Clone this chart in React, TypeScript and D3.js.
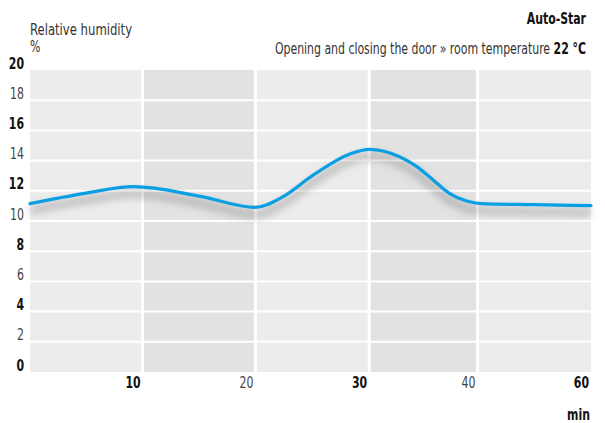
import React from 'react'
import * as d3 from 'd3'

// x axis: labelled column edges (last column covers 40-60)
const xTicks = [10, 20, 30, 40, 60]
const yTicks = [0, 2, 4, 6, 8, 10, 12, 14, 16, 18, 20]

// humidity curve
const minutes = [0, 5, 9.2, 15, 20, 22.4, 25.1, 28.3, 30, 32.8, 34.4, 35.9, 37.4, 39, 40.6, 50, 60]
const humidity = [11.15, 11.85, 12.27, 11.65, 10.9, 11.6, 13.05, 14.44, 14.75, 14.26, 13.6, 12.72, 11.83, 11.32, 11.15, 11.08, 11.02]

const W = 605
const H = 423
const FONT = "'DejaVu Sans Condensed', 'DejaVu Sans', sans-serif"
const SQUEEZE = 0.81 // narrow the fallback font towards the condensed original

// text squeezed horizontally around its anchor point
const T: React.FC<{
  x: number
  y: number
  size?: number
  bold?: boolean
  anchor?: 'start' | 'end' | 'middle'
  fill?: string
  children: React.ReactNode
}> = ({ x, y, size = 15, bold = false, anchor = 'start', fill = '#333', children }) => (
  <text
    transform={`translate(${x},${y}) scale(${SQUEEZE},1)`}
    textAnchor={anchor}
    fontSize={size}
    fontWeight={bold ? 'bold' : 'normal'}
    fill={fill}
  >
    {children}
  </text>
)

const App: React.FC = () => {
  const left = 30
  const right = 591
  const top = 70
  const bottom = 372

  const edges = [0, ...xTicks]
  const x = d3
    .scaleLinear()
    .domain(edges)
    .range([left, 142.6, 255.4, 369.2, 477.5, right])
  const y = d3.scaleLinear().domain([0, 20]).range([bottom, top])

  const pts: [number, number][] = minutes.map((m, i) => [x(m), y(humidity[i])])
  const line = d3.line().curve(d3.curveMonotoneX)
  const path = line(pts) || ''

  return (
    <svg
      width={W}
      height={H}
      style={{ position: 'absolute', left: 0, top: 0, display: 'block' }}
      fontFamily={FONT}
    >
      <defs>
        <filter id="shadow" x="-10%" y="-50%" width="120%" height="200%">
          <feGaussianBlur stdDeviation="4" />
        </filter>
      </defs>

      {/* column bands */}
      {edges.slice(0, -1).map((e, i) => (
        <rect
          key={'band' + i}
          x={x(e)}
          y={top}
          width={x(edges[i + 1]) - x(e)}
          height={bottom - top}
          fill={i % 2 === 0 ? '#ebeceb' : '#e1e2e1'}
        />
      ))}

      {/* horizontal grid */}
      {yTicks.slice(1, -1).map((t) => (
        <line key={'h' + t} x1={left} x2={right} y1={y(t)} y2={y(t)} stroke="#fff" strokeWidth={2} />
      ))}
      {/* vertical grid */}
      {xTicks.slice(0, -1).map((t) => (
        <line key={'v' + t} x1={x(t)} x2={x(t)} y1={top} y2={bottom} stroke="#fff" strokeWidth={3} />
      ))}

      {/* curve with soft shadow */}
      <path
        d={path}
        fill="none"
        stroke="rgba(0,0,0,0.3)"
        strokeWidth={5}
        transform="translate(0,7)"
        filter="url(#shadow)"
      />
      <path d={path} fill="none" stroke="#0a9fe2" strokeWidth={3.2} strokeLinecap="round" />

      {/* y tick labels */}
      {yTicks.map((t) => (
        <T
          key={'yl' + t}
          x={24}
          y={y(t) - 1.5}
          anchor="end"
          bold={t % 4 === 0}
          fill={t % 4 === 0 ? '#111' : '#444'}
        >
          {t}
        </T>
      ))}

      {/* x tick labels */}
      {xTicks.map((t, i) => (
        <T
          key={'xl' + t}
          x={x(t) - 2}
          y={388}
          anchor="end"
          bold={i % 2 === 0}
          fill={i % 2 === 0 ? '#111' : '#444'}
        >
          {t}
        </T>
      ))}

      <T x={590} y={420} anchor="end" bold fill="#111">
        min
      </T>

      <T x={30} y={34.5} size={16}>
        Relative humidity
      </T>
      <T x={30} y={52}>
        %
      </T>

      <T x={586} y={24} anchor="end" bold fill="#111">
        Auto-Star
      </T>
      <T x={586} y={53.5} anchor="end">
        Opening and closing the door » room temperature{' '}
        <tspan fontWeight="bold" fill="#111">
          22 °C
        </tspan>
      </T>
    </svg>
  )
}

export default App
